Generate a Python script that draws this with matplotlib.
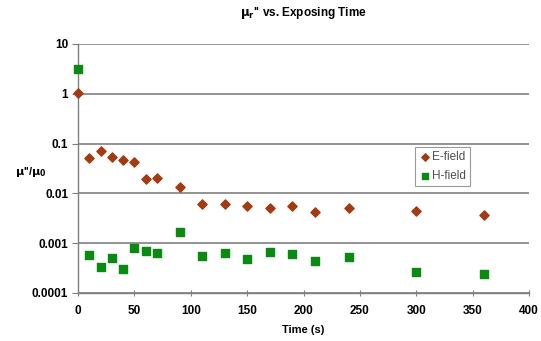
import matplotlib
matplotlib.use('Agg')
from matplotlib import pyplot as plt
import numpy as np

# Exposure times (s) and relative magnetic loss values
time_e = [0, 10, 20, 30, 40, 50, 60, 70, 90, 110, 130, 150, 170, 190, 210, 240, 300, 360]
e_field = [1.05, 0.051, 0.070, 0.055, 0.047, 0.043, 0.0195, 0.0205, 0.0135, 0.0061,
           0.0060, 0.0056, 0.0050, 0.0056, 0.0042, 0.0051, 0.0044, 0.0036]

time_h = [0, 10, 20, 30, 40, 50, 60, 70, 90, 110, 130, 150, 170, 190, 210, 240, 300, 360]
h_field = [3.2, 0.00058, 0.00034, 0.00050, 0.00030, 0.00079, 0.00070, 0.00065, 0.00168,
           0.00055, 0.00063, 0.00048, 0.00066, 0.00061, 0.00043, 0.00054, 0.00026, 0.00024]

x_ticks = [0, 50, 100, 150, 200, 250, 300, 350, 400]
y_ticks = [0.0001, 0.001, 0.01, 0.1, 1, 10]
y_tick_labels = ['0.0001', '0.001', '0.01', '0.1', '1', '10']

plt.rcParams['font.family'] = ['Liberation Sans', 'DejaVu Sans']

fig = plt.figure(figsize=(5.41, 3.41), dpi=100)
ax = fig.add_axes([0.1442, 0.1408, 0.8338, 0.7302])

ax.scatter(time_e, e_field, marker='D', s=22, color='#a33a12', label='E-field',
           zorder=3, clip_on=False)
ax.scatter(time_h, h_field, marker='s', s=38, color='#0a8a12', label='H-field',
           zorder=3, clip_on=False)

ax.set_yscale('log')
ax.set_ylim(0.0001, 10)
ax.set_xlim(0, 400)
ax.set_yticks(y_ticks)
ax.set_yticklabels(y_tick_labels)
ax.minorticks_off()
ax.set_xticks(x_ticks)

ax.grid(axis='y', color='#808080', linewidth=1.2)
ax.set_axisbelow(True)
for side in ['top', 'right']:
    ax.spines[side].set_visible(False)
for side in ['left', 'bottom']:
    ax.spines[side].set_color('#808080')
    ax.spines[side].set_linewidth(1.0)

ax.tick_params(axis='y', direction='out', length=4, color='#808080', pad=3,
               labelsize=8.5)
ax.tick_params(axis='x', direction='inout', length=5, color='#808080', pad=6,
               labelsize=8.5)
for lab in ax.get_xticklabels() + ax.get_yticklabels():
    lab.set_fontweight('bold')

ax.set_title(r"$\mathbf{\mu_r}$'' vs. Exposing Time", fontsize=8.5, fontweight='bold', pad=20)
ax.set_xlabel('Time (s)', fontsize=8, fontweight='bold', labelpad=6)
fig.text(0.058, 0.495, r"$\mathbf{\mu}$''/$\mathbf{\mu_0}$", fontsize=8,
         fontweight='bold', ha='center', va='center')

leg = ax.legend(loc='upper left', bbox_to_anchor=(0.734, 0.611), fontsize=8.5,
                frameon=True, fancybox=False, handletextpad=0.1, borderpad=0.35,
                handlelength=1.0, labelspacing=0.6, markerscale=0.8)
leg.get_frame().set_edgecolor('#808080')
leg.get_frame().set_linewidth(0.8)
for t in leg.get_texts():
    t.set_color('#505050')

fig.savefig('out.png', dpi=100)
